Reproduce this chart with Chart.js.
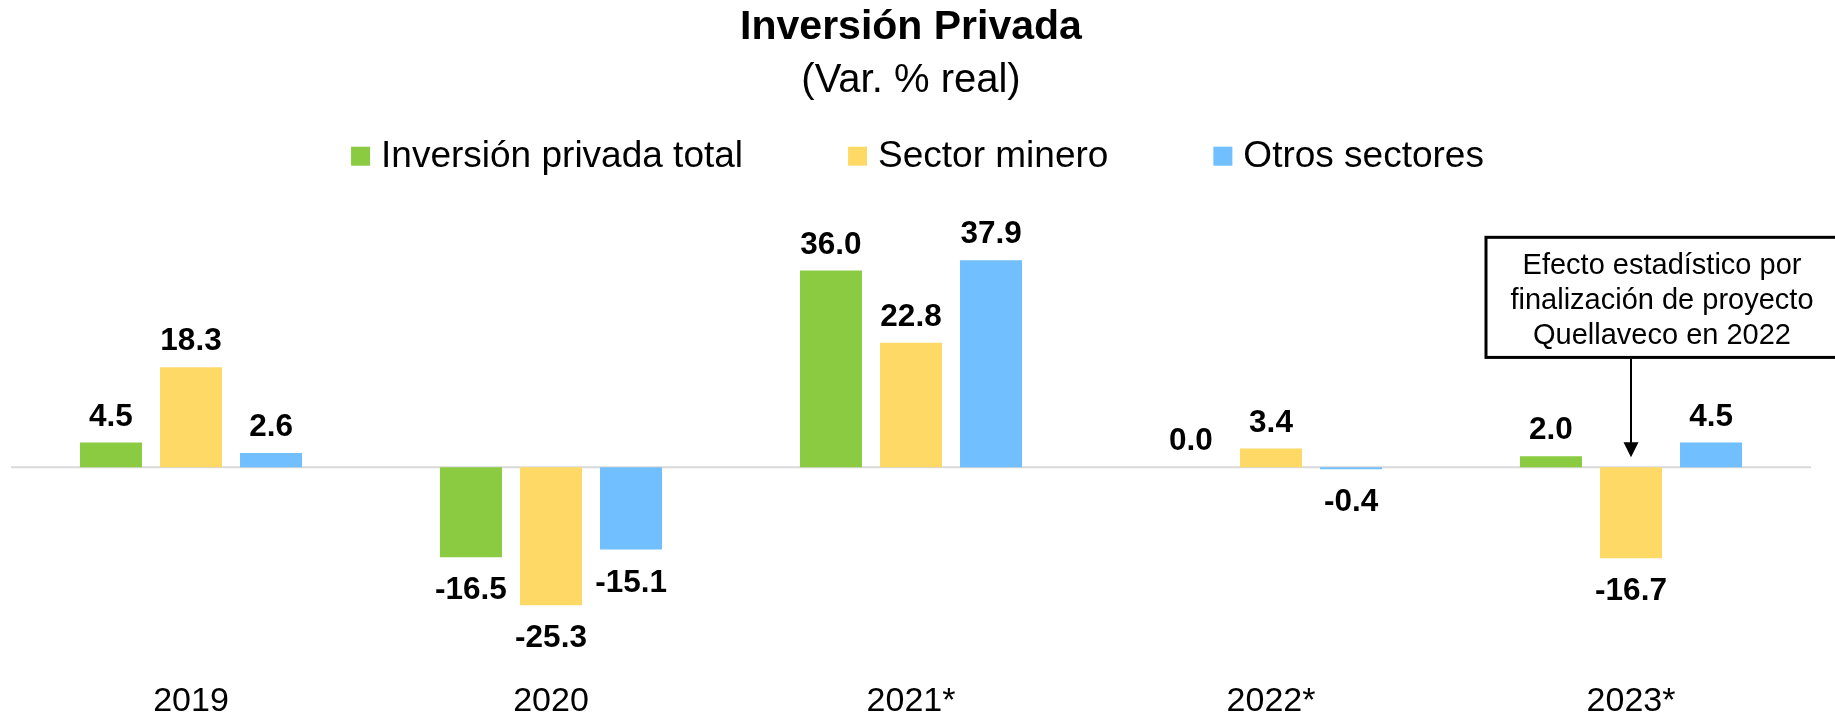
<!DOCTYPE html>
<html>
<head>
<meta charset="utf-8">
<script src="https://cdn.jsdelivr.net/npm/chart.js@4"></script>
<style>
  body { margin: 0; background: #fff; }
  #wrap { width: 1835px; height: 718px; position: relative; }
</style>
</head>
<body>
<div id="wrap"><canvas id="Canvas"></canvas></div>
<script>
const categories = ["2019", "2020", "2021*", "2022*", "2023*"];
const inversionTotal = [4.5, -16.5, 36.0, 0.0, 2.0];
const sectorMinero = [18.3, -25.3, 22.8, 3.4, -16.7];
const otrosSectores = [2.6, -15.1, 37.9, -0.4, 4.5];
const seriesNames = ["Inversión privada total", "Sector minero", "Otros sectores"];
const seriesColors = ["#8BCB42", "#FFD966", "#71BFFF"];

const noteLines = ["Efecto estadístico por", "finalización de proyecto", "Quellaveco en 2022"];

const FONT = "'Liberation Sans', Arial, sans-serif";

// light grey line at zero, under the bars
const zeroLine = {
  id: "zeroLine",
  beforeDatasetsDraw(chart) {
    const ctx = chart.ctx, a = chart.chartArea;
    const y = chart.scales.y.getPixelForValue(0);
    ctx.save();
    ctx.strokeStyle = "#D9D9D9";
    ctx.lineWidth = 2;
    ctx.beginPath();
    ctx.moveTo(a.left, y);
    ctx.lineTo(a.right, y);
    ctx.stroke();
    ctx.restore();
  }
};

// value labels over / under each bar
const barLabels = {
  id: "barLabels",
  afterDatasetsDraw(chart) {
    const ctx = chart.ctx;
    ctx.save();
    ctx.font = "bold 31.5px " + FONT;
    ctx.fillStyle = "#000";
    ctx.textAlign = "center";
    ctx.textBaseline = "alphabetic";
    chart.data.datasets.forEach((ds, i) => {
      chart.getDatasetMeta(i).data.forEach((bar, j) => {
        const v = ds.data[j];
        const y = v >= 0 ? bar.y - 17 : bar.y + 42;
        ctx.fillText(v.toFixed(1), bar.x, y);
      });
    });
    ctx.restore();
  }
};

// legend row drawn by hand (Chart.js legend padding also pads vertically)
const legendRow = {
  id: "legendRow",
  afterDraw(chart) {
    const ctx = chart.ctx;
    ctx.save();
    ctx.font = "37px " + FONT;
    const box = 19, gap = 11, between = 105;
    const widths = seriesNames.map(t => ctx.measureText(t).width);
    let total = widths.reduce((a, b) => a + b, 0) + seriesNames.length * (box + gap) + (seriesNames.length - 1) * between;
    let x = chart.width / 2 - total / 2;
    const y = chart.chartArea.top - 38;
    ctx.textBaseline = "middle";
    ctx.textAlign = "left";
    seriesNames.forEach((t, i) => {
      ctx.fillStyle = seriesColors[i];
      ctx.fillRect(x, y - box / 2, box, box);
      ctx.fillStyle = "#000";
      ctx.fillText(t, x + box + gap, y + 1);
      x += box + gap + widths[i] + between;
    });
    ctx.restore();
  }
};

// callout box with arrow pointing at 2023 mining bar
const callout = {
  id: "callout",
  afterDraw(chart) {
    const ctx = chart.ctx;
    const xs = chart.scales.x, ys = chart.scales.y;
    const cx = xs.getPixelForValue(4);
    const top = ys.getPixelForValue(42.1);
    const bottom = ys.getPixelForValue(20.1);
    const tip = ys.getPixelForValue(1.8);
    ctx.save();
    ctx.strokeStyle = "#000";
    ctx.lineWidth = 3;
    ctx.strokeRect(cx - 145, top, 352, bottom - top);
    ctx.font = "29px " + FONT;
    ctx.fillStyle = "#000";
    ctx.textAlign = "center";
    ctx.textBaseline = "alphabetic";
    noteLines.forEach((t, i) => ctx.fillText(t, cx + 31, top + 37 + i * 34.7));
    ctx.lineWidth = 2;
    ctx.beginPath();
    ctx.moveTo(cx, bottom + 1.5);
    ctx.lineTo(cx, tip - 14);
    ctx.stroke();
    ctx.beginPath();
    ctx.moveTo(cx - 7.5, tip - 15);
    ctx.lineTo(cx + 7.5, tip - 15);
    ctx.lineTo(cx, tip);
    ctx.closePath();
    ctx.fill();
    ctx.restore();
  }
};

const chart = new Chart(document.getElementById("Canvas").getContext("2d"), {
  type: "bar",
  data: {
    labels: categories,
    datasets: [inversionTotal, sectorMinero, otrosSectores].map((d, i) => ({
      label: seriesNames[i],
      data: d,
      backgroundColor: seriesColors[i],
      borderWidth: 0,
      categoryPercentage: 0.667,
      barPercentage: 0.775
    }))
  },
  options: {
    responsive: true,
    maintainAspectRatio: false,
    animation: false,
    layout: { padding: { left: 11, right: 24, top: 0, bottom: 0 } },
    plugins: {
      legend: { display: false },
      tooltip: { enabled: false },
      title: {
        display: true,
        text: "Inversión Privada",
        color: "#000",
        font: { family: FONT, size: 41, weight: "bold" },
        padding: { top: 3, bottom: 0 }
      },
      subtitle: {
        display: true,
        text: "(Var. % real)",
        color: "#000",
        font: { family: FONT, size: 40 },
        padding: { top: 5, bottom: 89 }
      }
    },
    scales: {
      x: {
        grid: { display: false, drawTicks: false },
        border: { display: false },
        ticks: {
          color: "#000",
          padding: 0,
          font: { family: FONT, size: 34, lineHeight: 0.94 }
        }
      },
      y: {
        min: -40.1,
        max: 50,
        border: { display: false },
        ticks: { display: false },
        grid: { display: false, drawTicks: false }
      }
    }
  },
  plugins: [zeroLine, barLabels, legendRow, callout]
});
</script>
</body>
</html>
